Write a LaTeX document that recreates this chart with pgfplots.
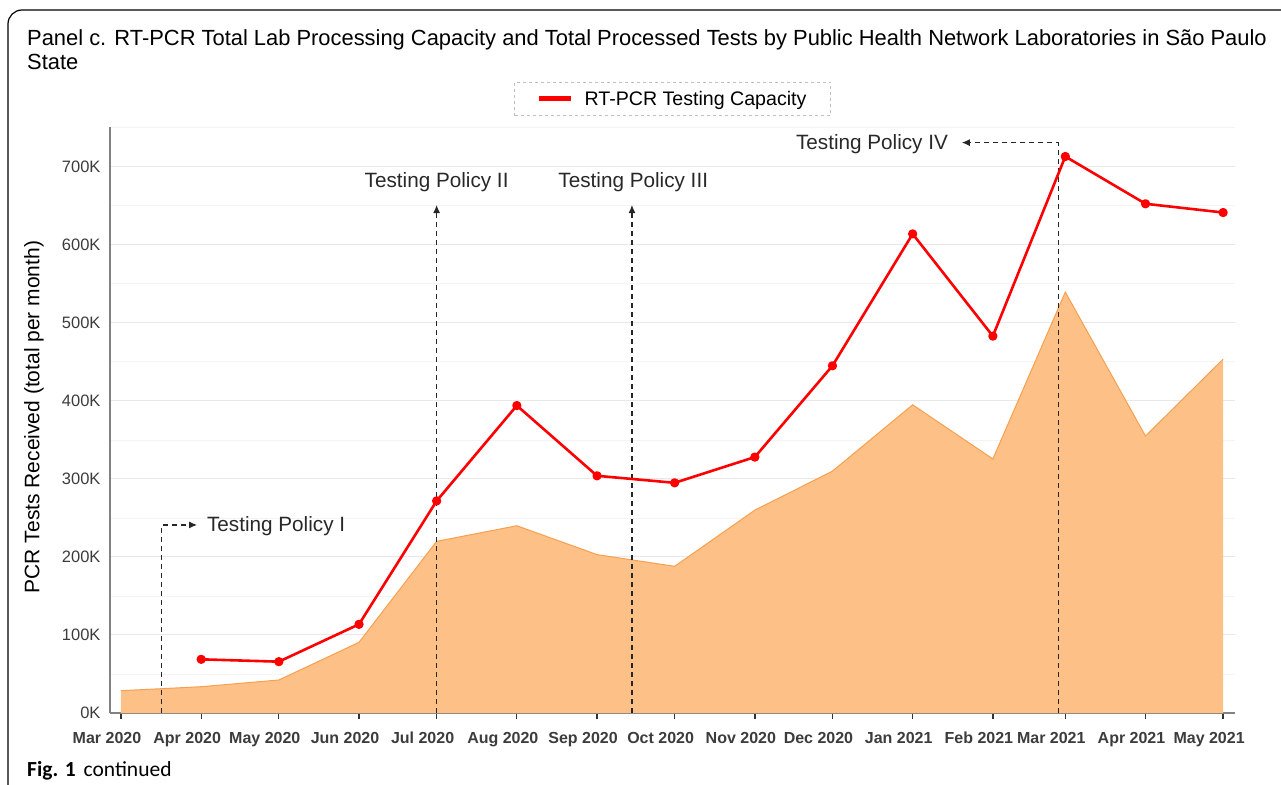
\documentclass[border=0pt]{standalone}
\usepackage{pgfplots}
\pgfplotsset{compat=1.18}
\usepackage{fontspec}
\setmainfont{Liberation Sans}
\newfontfamily\capfont{Carlito}
\usetikzlibrary{arrows.meta}
\definecolor{areafill}{RGB}{253,192,134}
\definecolor{areaedge}{RGB}{247,160,80}
\definecolor{ticktext}{RGB}{60,60,60}
\definecolor{annot}{RGB}{40,40,40}
\definecolor{gridmaj}{RGB}{232,232,232}
\definecolor{gridmin}{RGB}{244,244,244}
\definecolor{axisgray}{RGB}{130,130,130}
\begin{document}
\begin{tikzpicture}
\useasboundingbox (0pt,0pt) rectangle (1281pt,-784pt);
\draw[line width=1.2pt, rounded corners=14pt] (8pt,-800pt) -- (8pt,-10pt) -- (1300pt,-10pt);
\node[anchor=base west, inner sep=0, font=\fontsize{21.9}{24}\selectfont] at (27pt,-45.5pt) {Panel c. RT-PCR Total Lab Processing Capacity and Total Processed Tests by Public Health Network Laboratories in São Paulo};
\node[anchor=base west, inner sep=0, font=\fontsize{21.9}{24}\selectfont] at (27pt,-69.5pt) {State};
\node[anchor=base west, inner sep=0, font=\capfont\fontsize{21.5}{24}\selectfont] at (27pt,-776pt) {\textbf{Fig. 1}\hspace{8pt}continued};
\begin{axis}[
  at={(110pt,-713pt)}, anchor=south west, scale only axis,
  width=1125pt, height=586pt,
  xmin=-4.25, xmax=430.6, ymin=0, ymax=751000,
  axis x line*=bottom, axis y line*=left,
  axis line style={axisgray, line width=1.3pt, -},
  xtick={0,31,61,92,122,153,184,214,245,275,306,337,365,396,426},
  xticklabels={Mar 2020,Apr 2020,May 2020,Jun 2020,Jul 2020,Aug 2020,Sep 2020,Oct 2020,Nov 2020,Dec 2020,Jan 2021,Feb 2021,Mar 2021,Apr 2021,May 2021},
  xticklabel style={font=\bfseries\fontsize{16}{18}\selectfont, text=ticktext, text height=11.5pt, text depth=3pt, yshift=-9pt, xshift=-14pt},
  ytick={0,100000,200000,300000,400000,500000,600000,700000},
  yticklabels={0K,100K,200K,300K,400K,500K,600K,700K},
  yticklabel style={font=\fontsize{16.5}{18}\selectfont, text=ticktext},
  scaled y ticks=false,
  minor ytick={50000,150000,250000,350000,450000,550000,650000,750000},
  ymajorgrids, yminorgrids,
  major grid style={gridmaj, line width=1pt},
  minor grid style={gridmin, line width=0.8pt},
  tick align=outside, major tick length=6pt, minor tick length=0pt,
  x tick style={black!80, line width=1.3pt},
  y tick style={draw=none},
  clip=false,
  ylabel={PCR Tests Received (total per month)},
  ylabel style={at={(axis description cs:-0.0676,0.505)}, anchor=center, font=\fontsize{21}{24}\selectfont},
  legend style={at={(0.5,1)}, anchor=south, yshift=11pt, draw=black!25, dashed, line width=0.8pt,
    font=\fontsize{19.6}{22}\selectfont, inner xsep=22pt, inner ysep=7pt, column sep=9pt},
  legend image code/.code={\draw[solid, line width=5pt, red, line cap=butt] (0pt,0pt) -- (32pt,0pt);},
]
\addplot[fill=areafill, draw=none, forget plot] coordinates {
(0,28600) (31,33700) (61,42300) (92,90600) (122,220000) (153,240000) (184,203000) (214,188000) (245,260000) (275,310000) (306,395000) (337,325600) (365,539400) (396,355000) (426,453500)
} \closedcycle;
\addplot[areaedge, line width=1pt, forget plot] coordinates {
(0,28600) (31,33700) (61,42300) (92,90600) (122,220000) (153,240000) (184,203000) (214,188000) (245,260000) (275,310000) (306,395000) (337,325600) (365,539400) (396,355000) (426,453500)
};
\tikzset{pol/.style={line width=1.1pt, black!85, dash pattern=on 5pt off 4pt, -{Latex[length=8pt,width=7pt]}}}
\draw[pol] (axis cs:15.8,0) -- (axis cs:15.8,241000) -- (axis cs:29.4,241000);
\node[anchor=west, inner sep=0, font=\fontsize{20.7}{22}\selectfont, text=annot] at (axis cs:33.2,240000) {Testing Policy I};
\draw[pol] (axis cs:122,0) -- (axis cs:122,651000);
\node[anchor=center, inner sep=0, font=\fontsize{20.7}{22}\selectfont, text=annot] at (axis cs:122,680000) {Testing Policy II};
\draw[pol] (axis cs:197.5,0) -- (axis cs:197.5,651000);
\node[anchor=center, inner sep=0, font=\fontsize{20.7}{22}\selectfont, text=annot] at (axis cs:198,680000) {Testing Policy III};
\draw[pol] (axis cs:362.2,0) -- (axis cs:362.2,731000) -- (axis cs:325,731000);
\node[anchor=east, inner sep=0, font=\fontsize{20.7}{22}\selectfont, text=annot] at (axis cs:319.7,729500) {Testing Policy IV};
\addplot[red, line width=2.6pt, line join=round, mark=*, mark size=3.3pt, mark options={solid, fill=red, draw=red}] coordinates {
(31,68800) (61,65800) (92,113700) (122,271800) (153,394000) (184,304000) (214,295000) (245,328000) (275,445000) (306,614000) (337,483000) (365,713200) (396,652600) (426,641400)
};
\addlegendentry{RT-PCR Testing Capacity}
\end{axis}
\end{tikzpicture}
\end{document}
